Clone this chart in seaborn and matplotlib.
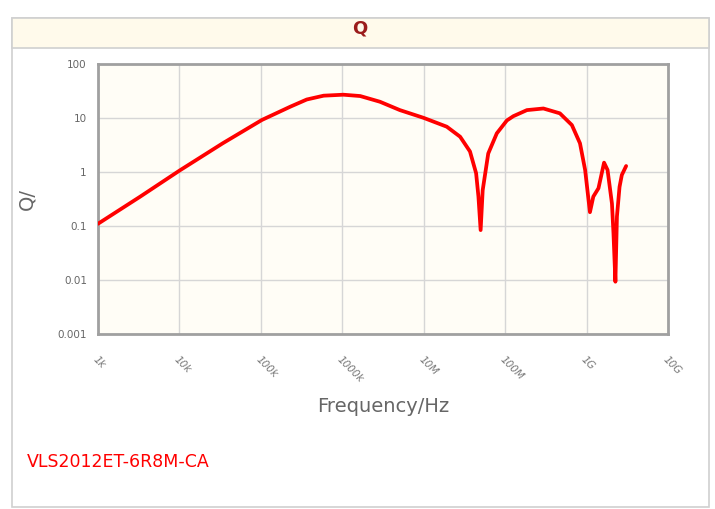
import numpy as np
import pandas as pd
import matplotlib
matplotlib.use("Agg")
import matplotlib.pyplot as plt
from matplotlib.patches import Rectangle
from matplotlib.ticker import FixedLocator, NullLocator
import seaborn as sns

# valores (Hz, Q)
freq = [1e3, 3.3e3, 1.0e4, 3.4e4, 1.03e5, 2.3e5, 3.66e5, 5.9e5, 1.03e6,
        1.66e6, 2.9e6, 5.1e6, 9.9e6, 1.92e7, 2.8e7, 3.7e7, 4.4e7, 4.7e7,
        5.0e7, 5.3e7, 6.2e7, 7.9e7, 1.05e8, 1.26e8, 1.85e8, 2.95e8, 4.7e8,
        6.6e8, 8.3e8, 9.6e8, 1.1e9, 1.21e9, 1.4e9, 1.64e9, 1.81e9, 2.05e9,
        2.14e9, 2.26e9, 2.36e9, 2.54e9, 2.71e9, 3.06e9]
q = [0.11, 0.35, 1.06, 3.4, 9.2, 16.2, 22.0, 25.9, 27.0,
     25.5, 20.0, 14.0, 10.1, 6.9, 4.5, 2.4, 0.95, 0.35,
     0.084, 0.46, 2.2, 5.2, 9.0, 10.8, 14.0, 15.0, 12.2,
     7.4, 3.4, 1.09, 0.18, 0.35, 0.5, 1.49, 1.09, 0.26,
     0.073, 0.0093, 0.15, 0.53, 0.88, 1.29]

x_ticks = [1e3, 1e4, 1e5, 1e6, 1e7, 1e8, 1e9, 1e10]
x_labels = ["1k", "10k", "100k", "1000k", "10M", "100M", "1G", "10G"]
y_ticks = [0.001, 0.01, 0.1, 1, 10, 100]
y_labels = ["0.001", "0.01", "0.1", "1", "10", "100"]

df = pd.DataFrame({"freq": freq, "q": q})

sns.set_style("white")
plt.rcParams["font.family"] = ["DejaVu Sans"]

W, H = 715, 509
fig = plt.figure(figsize=(W / 100, H / 100), dpi=100)

# moldura externa e barra de título (atrás dos eixos)
fig.patches.append(Rectangle((12 / W, 1 - 507 / H), 697 / W, 489 / H,
                             transform=fig.transFigure, fc="white",
                             ec="#d0d0d0", lw=1.2, zorder=-10))
fig.patches.append(Rectangle((12 / W, 1 - 48 / H), 697 / W, 30 / H,
                             transform=fig.transFigure, fc="#fffaeb",
                             ec="#d0d0d0", lw=1.2, zorder=-9))
fig.text(360 / W, 1 - 29 / H, "Q", color="#9b1c1c", fontsize=13,
         fontweight="bold", ha="center", va="center")

ax = fig.add_axes([98 / W, 1 - 334 / H, 570 / W, 270 / H])
ax.set_facecolor("#fffdf6")
ax.set_xscale("log")
ax.set_yscale("log")

sns.lineplot(data=df, x="freq", y="q", ax=ax, color="#ff0000", lw=2.7,
             sort=False, zorder=5, solid_joinstyle="round",
             solid_capstyle="round")

ax.set_xlim(1e3, 1e10)
ax.set_ylim(1e-3, 1e2)
ax.xaxis.set_major_locator(FixedLocator(x_ticks))
ax.xaxis.set_minor_locator(NullLocator())
ax.yaxis.set_major_locator(FixedLocator(y_ticks))
ax.yaxis.set_minor_locator(NullLocator())
ax.set_xticklabels(x_labels, rotation=-45, ha="left", va="top",
                   fontsize=7.5, color="#777777", fontstyle="italic",
                   rotation_mode="anchor")
ax.set_yticklabels(y_labels, fontsize=7.5, color="#666666")
ax.tick_params(axis="both", direction="out", length=5, width=1,
               color="#a0a0a0", pad=3)
ax.tick_params(axis="x", pad=10)
ax.grid(True, color="#d6d6d6", lw=1)
for s in ax.spines.values():
    s.set_color("#a0a0a0")
    s.set_linewidth(2)

ax.set_xlabel("Frequency/Hz", fontsize=14, color="#666666", labelpad=9)
ax.set_ylabel("Q/", fontsize=14, color="#666666", labelpad=15)

fig.text(27 / W, 1 - 462 / H, "VLS2012ET-6R8M-CA", color="#ff0000",
         fontsize=12.5, ha="left", va="center")

fig.savefig("out.png", dpi=100)
